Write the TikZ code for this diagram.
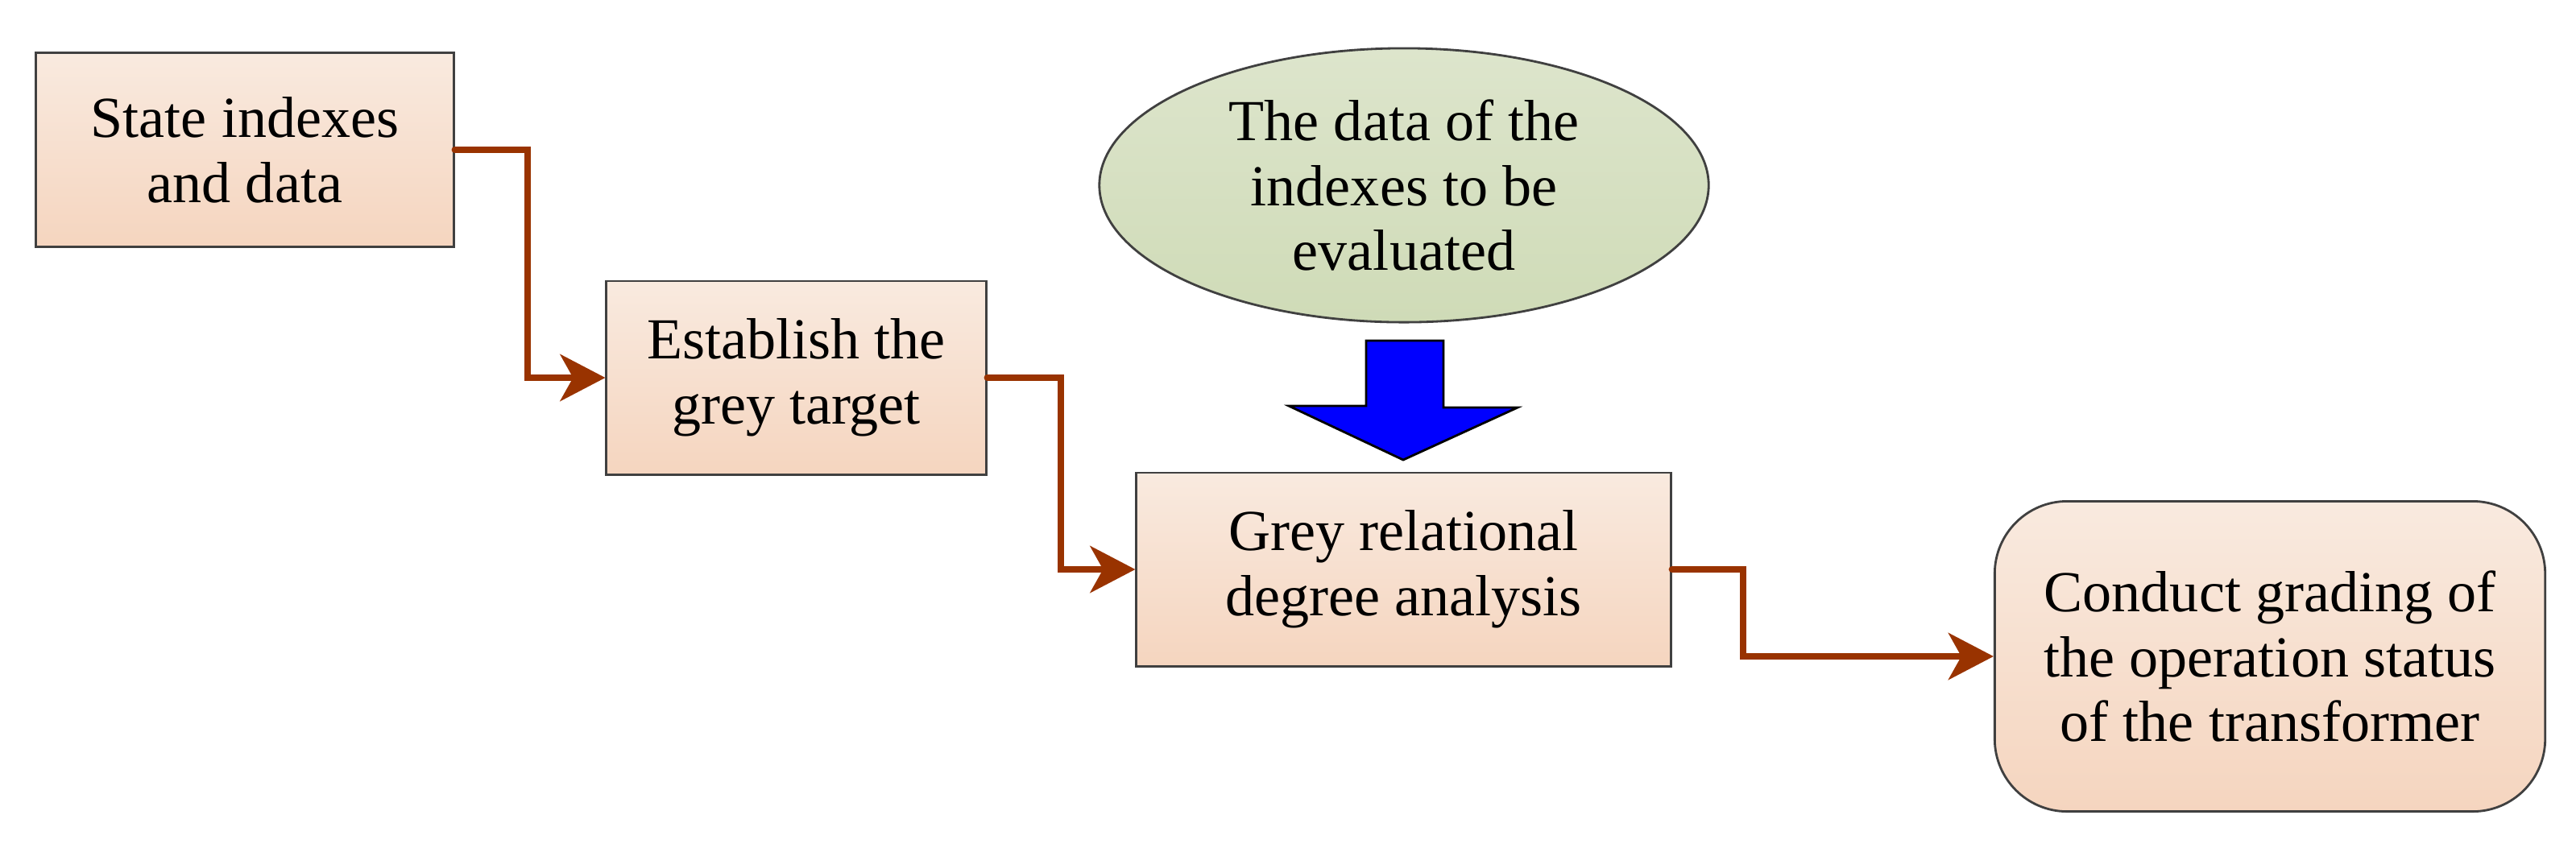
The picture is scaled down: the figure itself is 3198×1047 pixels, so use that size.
\documentclass[tikz,border=0pt]{standalone}
\usepackage{fontspec}
\setmainfont{Liberation Serif}
\usetikzlibrary{arrows.meta,shapes.geometric}
\definecolor{boxtop}{HTML}{F9EADF}
\definecolor{boxbot}{HTML}{F5D5BF}
\definecolor{elltop}{HTML}{DDE5CC}
\definecolor{ellbot}{HTML}{CFDBB7}
\definecolor{conncol}{HTML}{993300}
\definecolor{edgecol}{HTML}{404040}
\begin{document}
\begin{tikzpicture}[x=0.01cm,y=-0.01cm,
  box/.style={draw=edgecol, line width=0.8pt, top color=boxtop, bottom color=boxbot,
    align=center, inner sep=0pt, font=\fontsize{20.5}{23}\selectfont},
  conn/.style={draw=conncol, line width=0.08cm, line cap=round, line join=miter,
    -{Stealth[length=0.56cm,width=0.58cm,inset=0.16cm]}},
  bigarrow/.style={draw=black, line width=0.8pt, fill=blue, line join=miter}
]
\useasboundingbox (0,0) rectangle (3198,1047);
\node[box, minimum width=5.18cm, minimum height=2.41cm] (b1) at (304,186) {State indexes\\and data};
\node[box, minimum width=4.71cm, minimum height=2.40cm] (b2) at (988.5,469) {Establish the\\grey target};
\node[box, minimum width=6.63cm, minimum height=2.40cm] (b3) at (1742.5,707) {Grey relational\\degree analysis};
\node[box, rounded corners=0.9cm, minimum width=6.83cm, minimum height=3.85cm] (b4) at (2818,815) {Conduct grading of\\the operation status\\of the transformer};
\node[box, ellipse, top color=elltop, bottom color=ellbot, minimum width=7.56cm, minimum height=3.40cm] (e1) at (1743,230) {The data of the\\indexes to be\\evaluated};
\path[bigarrow] (1696,423) -- (1792,423) -- (1792,506) -- (1884,506) -- (1742,571) -- (1600,504) -- (1696,504) -- cycle;
\draw[conn] (b1.east) -- ++(90,0) |- (b2.west);
\draw[conn] (b2.east) -- ++(91,0) |- (b3.west);
\draw[conn] (b3.east) -- ++(88,0) |- (b4.west);
\end{tikzpicture}
\end{document}
